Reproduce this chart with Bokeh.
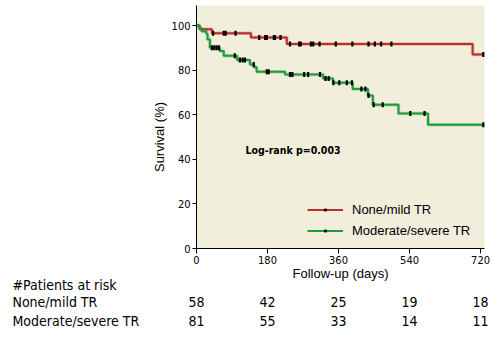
import numpy as np
from bokeh.plotting import figure
from bokeh.core.properties import value
from bokeh.models import (ColumnDataSource, Label, LabelSet, Legend, LegendItem,
                          FixedTicker, Range1d, BoxAnnotation)
from bokeh.embed import file_html
from bokeh.resources import INLINE

# ---- data ----
red_times = [0, 8, 39, 138, 229, 700, 727]
red_surv = [100, 98.3, 96.5, 94.6, 91.7, 87.0, 87.0]
red_censor = [42, 69, 74, 99, 159, 174, 178, 196, 199, 213, 237, 260, 264, 290,
              296, 312, 353, 395, 436, 452, 468, 494, 727]

green_times = [0, 7, 13, 25, 28, 34, 59, 69, 103, 135.5, 145.6, 152.5, 224.5,
               321, 346, 396, 434.5, 447, 512, 587, 727]
green_surv = [100, 98.8, 97.5, 96.3, 93.8, 90.1, 88.6, 86.5, 84.6, 82.5, 81.3,
              79.3, 78.0, 76.2, 74.4, 71.6, 68.6, 64.5, 60.6, 55.5, 55.5]
green_censor = [39, 45, 51, 57, 97, 110, 117, 123, 145, 178, 183, 237, 243, 273,
                283, 313, 327, 335, 347, 362, 381, 394, 418, 428, 436, 449, 472,
                542, 578, 727]

x_ticks = [0, 180, 360, 540, 720]
y_ticks = [0, 20, 40, 60, 80, 100]
group_names = ["None/mild TR", "Moderate/severe TR"]
risk_none = [58, 42, 25, 19, 18]
risk_mod = [81, 55, 33, 14, 11]

RED = "#BD2F2B"
GREEN = "#1E9B3A"
BG = "#F2EEDC"
NARROW = "DejaVu Sans Condensed, Roboto, sans-serif"
SANS = "Liberation Sans"

W, H = 502, 337
# plot-area placement on the canvas (pixels)
AREA_L, AREA_R, AREA_T, AREA_B = 196, 484, 5, 248
X_MAX, Y_MAX = 730, 109
ppx = (AREA_R - AREA_L) / X_MAX
ppy = (AREA_B - AREA_T) / Y_MAX


def surv_at(times, surv, t):
    idx = np.searchsorted(np.array(times), np.array(t), side="right") - 1
    return list(np.array(surv)[idx])


def sy(canvas_y):
    """canvas y (from top) -> screen units of the frame (from bottom)"""
    return H - canvas_y


p = figure(width=W, height=H, output_backend="svg", toolbar_location=None,
           x_range=Range1d(-AREA_L / ppx, X_MAX + (W - AREA_R) / ppx),
           y_range=Range1d(-(H - AREA_B) / ppy, Y_MAX + AREA_T / ppy),
           min_border_left=0, min_border_right=0, min_border_top=0,
           min_border_bottom=0)
p.background_fill_color = "white"
p.border_fill_color = "white"
p.outline_line_color = None
p.grid.grid_line_color = None

# plot area background
p.add_layout(BoxAnnotation(left=0, right=X_MAX, bottom=0, top=Y_MAX,
                           fill_color=BG, fill_alpha=1, line_color=None,
                           level="underlay"))

# halo + lines
p.step(red_times, red_surv, mode="after", line_color=RED, line_width=3.5, line_alpha=0.3)
r_red = p.step(red_times, red_surv, mode="after", line_color=RED, line_width=2)
p.step(green_times, green_surv, mode="after", line_color=GREEN, line_width=3.5, line_alpha=0.3)
r_green = p.step(green_times, green_surv, mode="after", line_color=GREEN, line_width=2)

red_cy = surv_at(red_times, red_surv, red_censor)
green_cy = surv_at(green_times, green_surv, green_censor)
# small core of the censor ticks (also serves as the legend symbol)
t_red = p.scatter(red_censor, red_cy, marker="square", size=1.5,
                  fill_color="black", line_color=None)
t_green = p.scatter(green_censor, green_cy, marker="square", size=1.5,
                    fill_color="black", line_color=None)
p.scatter(red_censor, red_cy, marker="dash", angle=np.pi / 2, size=5,
          line_color="black", line_width=2.2)
p.scatter(green_censor, green_cy, marker="dash", angle=np.pi / 2, size=5,
          line_color="black", line_width=2.2)

# axes (fixed at data 0 so they sit on the plot area edges)
for ax in (p.xaxis[0], p.yaxis[0]):
    ax.fixed_location = 0
    ax.major_label_text_font = NARROW
    ax.major_label_text_font_size = "11px"
    ax.major_label_text_color = "black"
    ax.axis_line_color = "black"
    ax.major_tick_line_color = "black"
    ax.minor_tick_line_color = None
    ax.major_tick_in = 0
p.xaxis.bounds = (0, X_MAX)
p.yaxis.bounds = (0, Y_MAX)
p.xaxis.ticker = FixedTicker(ticks=x_ticks)
p.yaxis.ticker = FixedTicker(ticks=y_ticks)
p.xaxis.major_tick_out = 5
p.yaxis.major_tick_out = 4
p.xaxis.major_label_standoff = 2
p.yaxis.major_label_standoff = 2

# axis titles
p.add_layout(Label(x=159, y=sy(136.5), x_units="screen", y_units="screen",
                   text="Survival (%)", angle=np.pi / 2, text_font=SANS,
                   text_font_size="13px", text_align="center", text_baseline="middle",
                   text_color="black"))
p.add_layout(Label(x=X_MAX / 2, y=sy(273), x_units="data", y_units="screen",
                   text="Follow-up (days)", text_font=SANS, text_font_size="13px",
                   text_align="center", text_baseline="middle", text_color="black"))

# legend
legend = Legend(items=[LegendItem(label=group_names[0], renderers=[r_red, t_red]),
                       LegendItem(label=group_names[1], renderers=[r_green, t_green])],
                location=(307, sy(241.2)), orientation="vertical")
legend.background_fill_alpha = 0
legend.border_line_color = None
legend.padding = 0
legend.margin = 0
legend.spacing = 0
legend.glyph_width = 36
legend.glyph_height = 7
legend.label_height = 21
legend.label_standoff = 9
legend.label_text_font = SANS
legend.label_text_font_size = "13px"
legend.label_text_color = "black"
p.add_layout(legend)

# log-rank text
p.add_layout(Label(x=245, y=sy(149), x_units="screen", y_units="screen",
                   text="Log-rank p=0.003", text_font=NARROW, text_font_style="bold",
                   text_font_size="10.5px", text_baseline="middle", text_color="black"))

# risk table
row_y = [sy(284), sy(301.5), sy(320.5)]
row_text = ["#Patients at risk"] + group_names
for t, yy in zip(row_text, row_y):
    p.add_layout(Label(x=12, y=yy, x_units="screen", y_units="screen", text=t,
                       text_font=NARROW, text_font_size="14px", text_baseline="middle",
                       text_color="black"))

for counts, yy in zip([risk_none, risk_mod], row_y[1:]):
    src = ColumnDataSource(dict(x=x_ticks, y=[yy] * len(x_ticks),
                                t=[str(c) for c in counts]))
    p.add_layout(LabelSet(x="x", y="y", text="t", source=src, x_units="data",
                          y_units="screen", text_font=value(NARROW),
                          text_font_size=value("14px"),
                          text_align="center", text_baseline="middle",
                          text_color="black"))

open("out.html", "w").write(file_html(p, INLINE))
